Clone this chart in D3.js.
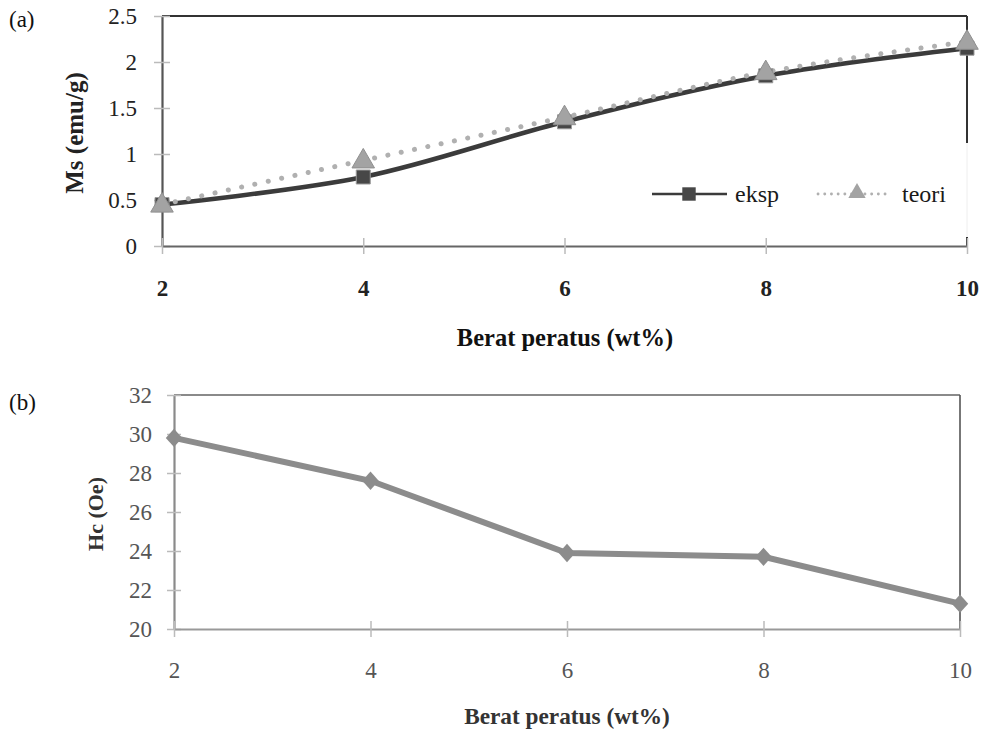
<!DOCTYPE html>
<html><head><meta charset="utf-8">
<script src="https://cdn.jsdelivr.net/npm/d3@7"></script>
<style>
body{margin:0;background:#fff;}
svg{display:block;}
text{font-family:"Liberation Serif","DejaVu Serif",serif;}
</style></head>
<body>
<svg id="c" width="981" height="731"></svg>
<script>
// ---- data ----
const xValues = [2, 4, 6, 8, 10];
const msEksp = [0.45, 0.75, 1.35, 1.85, 2.15];
const msTeori = [0.45, 0.93, 1.40, 1.89, 2.22];
const hcValues = [29.8, 27.6, 23.9, 23.7, 21.3];
const msTicks = [0, 0.5, 1, 1.5, 2, 2.5];
const hcTicks = [20, 22, 24, 26, 28, 30, 32];
const seriesNames = ["eksp", "teori"];
const xTitle = "Berat peratus (wt%)";

const svg = d3.select("#c");

// ================= Panel (a) =================
const xa = d3.scaleLinear().domain([2, 10]).range([162, 967]);
const ya = d3.scaleLinear().domain([0, 2.5]).range([246, 16]);
const ga = svg.append("g");

ga.append("line").attr("x1", xa(2)).attr("x2", xa(10)).attr("y1", ya(2.5)).attr("y2", ya(2.5))
  .attr("stroke", "#333").attr("stroke-width", 2);
ga.append("line").attr("x1", xa(10)).attr("x2", xa(10)).attr("y1", ya(2.5)).attr("y2", ya(0))
  .attr("stroke", "#333").attr("stroke-width", 2);

// y axis
const yAxA = d3.axisLeft(ya).tickValues(msTicks).tickSize(0).tickPadding(0).tickFormat(d3.format("~g"));
const gya = ga.append("g").attr("transform", `translate(${xa(2)},0)`).call(yAxA);
gya.select(".domain").attr("stroke", "#555").attr("stroke-width", 2.2);
gya.selectAll(".tick text").attr("x", -25).attr("dy", "0.33em").attr("font-size", 23)
  .attr("fill", "#222");
gya.selectAll(".tick").append("line").attr("x1", -8).attr("x2", 8).attr("stroke", "#bbb").attr("stroke-width", 1.5);

// x axis
const xAxA = d3.axisBottom(xa).tickValues(xValues).tickSize(0).tickPadding(0);
const gxa = ga.append("g").attr("transform", `translate(0,${ya(0)})`).call(xAxA);
gxa.select(".domain").attr("stroke", "#666").attr("stroke-width", 2);
gxa.selectAll(".tick text").attr("y", 50).attr("dy", "0").attr("font-size", 23)
  .attr("font-weight", "bold").attr("fill", "#222");
gxa.selectAll(".tick").append("line").attr("y1", -8).attr("y2", 8).attr("stroke", "#bbb").attr("stroke-width", 1.5);

// legend box (white, covers part of right border)
ga.append("rect").attr("x", 640).attr("y", 143).attr("width", 340).attr("height", 94).attr("fill", "#fff");
ga.append("line").attr("x1", xa(10)).attr("x2", xa(10)).attr("y1", 143).attr("y2", 237)
  .attr("stroke", "#eee").attr("stroke-width", 1);

// lines
const lineA = (vals) => d3.line().x((d, i) => xa(xValues[i])).y(d => ya(d)).curve(d3.curveCatmullRom.alpha(0.5))(vals);
ga.append("path").attr("d", lineA(msEksp)).attr("fill", "none").attr("stroke", "#3b3b3b").attr("stroke-width", 4.5);
ga.append("path").attr("d", lineA(msTeori)).attr("fill", "none").attr("stroke", "#b0b0b0")
  .attr("stroke-width", 5).attr("stroke-linecap", "round").attr("stroke-dasharray", "0.1,13.5");

const sq = d3.symbol().type(d3.symbolSquare).size(196);
const tri = d3.symbol().type(d3.symbolTriangle).size(220);
ga.selectAll(".sq").data(msEksp).join("path").attr("d", sq)
  .attr("transform", (d, i) => `translate(${xa(xValues[i])},${ya(d)})`)
  .attr("fill", "#474747").attr("stroke", "#9a9a9a").attr("stroke-width", 1);
ga.selectAll(".tri").data(msTeori).join("path").attr("d", tri)
  .attr("transform", (d, i) => `translate(${xa(xValues[i])},${ya(d) + 1})`)
  .attr("fill", "#a3a3a3").attr("stroke", "#8f8f8f").attr("stroke-width", 1);

// legend items
const lg = ga.append("g");
lg.append("line").attr("x1", 652).attr("x2", 727).attr("y1", 194).attr("y2", 194).attr("stroke", "#3b3b3b").attr("stroke-width", 2.5);
lg.append("path").attr("d", d3.symbol().type(d3.symbolSquare).size(180)).attr("transform", "translate(689,194)").attr("fill", "#474747");
lg.append("text").attr("x", 735).attr("y", 202).attr("font-size", 24).attr("fill", "#1a1a1a").text(seriesNames[0]);
lg.append("line").attr("x1", 818).attr("x2", 888).attr("y1", 194).attr("y2", 194).attr("stroke", "#b0b0b0")
  .attr("stroke-width", 2.8).attr("stroke-linecap", "round").attr("stroke-dasharray", "0.1,6.6");
lg.append("path").attr("d", d3.symbol().type(d3.symbolTriangle).size(130)).attr("transform", "translate(857,193)").attr("fill", "#a3a3a3");
lg.append("text").attr("x", 902).attr("y", 202).attr("font-size", 24).attr("fill", "#1a1a1a").text(seriesNames[1]);

// titles
ga.append("text").attr("transform", `translate(83,${(ya(0) + ya(2.5)) / 2 + 2}) rotate(-90)`).attr("text-anchor", "middle")
  .attr("font-size", 25).attr("font-weight", "bold").attr("fill", "#222").text("Ms (emu/g)");
ga.append("text").attr("x", 565).attr("y", 346).attr("text-anchor", "middle")
  .attr("font-size", 24.5).attr("font-weight", "bold").attr("fill", "#111").text(xTitle);
svg.append("text").attr("x", 9).attr("y", 27).attr("font-size", 23).attr("fill", "#111").text("(a)");

// ================= Panel (b) =================
const xb = d3.scaleLinear().domain([2, 10]).range([174, 960]);
const yb = d3.scaleLinear().domain([20, 32]).range([629, 395]);
const gb = svg.append("g");

gb.append("line").attr("x1", xb(2)).attr("x2", xb(10)).attr("y1", yb(32)).attr("y2", yb(32))
  .attr("stroke", "#8a8a8a").attr("stroke-width", 2);
gb.append("line").attr("x1", xb(10)).attr("x2", xb(10)).attr("y1", yb(32)).attr("y2", yb(20))
  .attr("stroke", "#555").attr("stroke-width", 1.6);

const yAxB = d3.axisLeft(yb).tickValues(hcTicks).tickSize(0).tickPadding(0);
const gyb = gb.append("g").attr("transform", `translate(${xb(2)},0)`).call(yAxB);
gyb.select(".domain").attr("stroke", "#8a8a8a").attr("stroke-width", 2.2);
gyb.selectAll(".tick text").attr("x", -22).attr("dy", "0.33em").attr("font-size", 23)
  .attr("fill", "#555");
gyb.selectAll(".tick").append("line").attr("x1", -7).attr("x2", 7).attr("stroke", "#bbb").attr("stroke-width", 1.5);

const xAxB = d3.axisBottom(xb).tickValues(xValues).tickSize(0).tickPadding(0);
const gxb = gb.append("g").attr("transform", `translate(0,${yb(20)})`).call(xAxB);
gxb.select(".domain").attr("stroke", "#999").attr("stroke-width", 2);
gxb.selectAll(".tick text").attr("y", 49).attr("dy", "0").attr("font-size", 23)
  .attr("fill", "#555");
gxb.selectAll(".tick").append("line").attr("y1", -8).attr("y2", 8).attr("stroke", "#bbb").attr("stroke-width", 1.5);

const lineB = d3.line().x((d, i) => xb(xValues[i])).y(d => yb(d));
gb.append("path").attr("d", lineB(hcValues)).attr("fill", "none").attr("stroke", "#8c8c8c").attr("stroke-width", 6);
const dia = d3.symbol().type(d3.symbolSquare).size(135);
gb.selectAll(".dia").data(hcValues).join("path").attr("d", dia)
  .attr("transform", (d, i) => `translate(${xb(xValues[i])},${yb(d)}) scale(1,1.12) rotate(45)`)
  .attr("fill", "#8c8c8c");

gb.append("text").attr("transform", `translate(103,${(yb(20) + yb(32)) / 2 + 2}) rotate(-90)`).attr("text-anchor", "middle")
  .attr("font-size", 22).attr("font-weight", "bold").attr("fill", "#333").text("Hc (Oe)");
gb.append("text").attr("x", 567).attr("y", 724).attr("text-anchor", "middle")
  .attr("font-size", 23.3).attr("font-weight", "bold").attr("fill", "#333").text(xTitle);
svg.append("text").attr("x", 9).attr("y", 410).attr("font-size", 23).attr("fill", "#111").text("(b)");
</script>
</body></html>
